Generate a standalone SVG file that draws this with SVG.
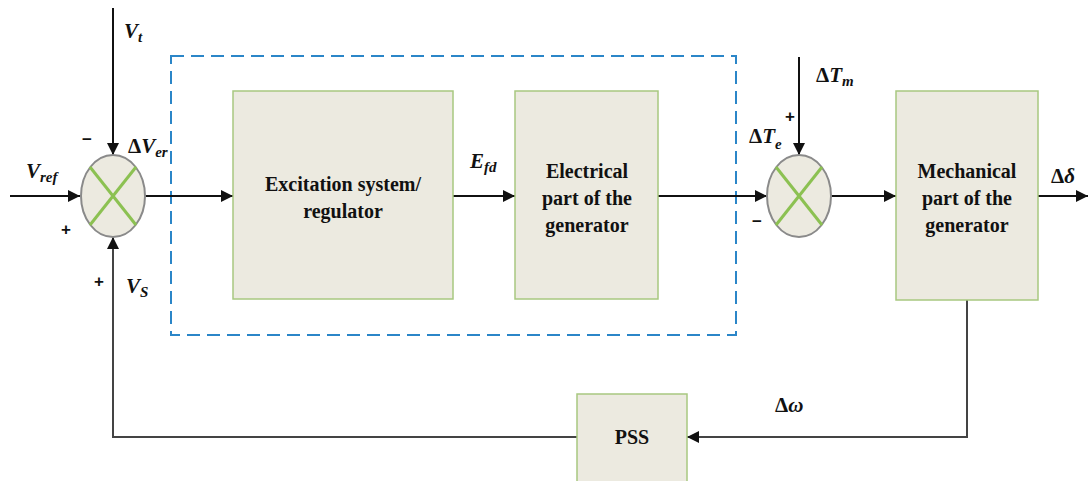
<svg xmlns="http://www.w3.org/2000/svg" width="1088" height="481" viewBox="0 0 1088 481">
  <style>
    .blk { fill: #ECEAE0; stroke: #A8C880; stroke-width: 1.5; }
    .sum { fill: #ECEAE0; stroke: #8A8A8A; stroke-width: 2; }
    .cross { stroke: #8CC152; stroke-width: 3; }
    .wire { fill: none; stroke: #111; stroke-width: 2; }
    .fb { fill: none; stroke: #444; stroke-width: 2; }
    .lbl { font-family: "Liberation Serif", serif; font-weight: bold; font-size: 20px; fill: #111; text-anchor: middle; }
    .var { font-family: "Liberation Serif", serif; font-weight: bold; font-style: italic; font-size: 21px; fill: #111; }
    .up { font-style: normal; }
    .sub { font-size: 15px; }
    .sign { font-family: "Liberation Sans", sans-serif; font-weight: bold; font-size: 17px; fill: #111; text-anchor: middle; }
  </style>
  <defs>
    <marker id="arr" viewBox="0 0 10 10" refX="10" refY="5" markerWidth="7" markerHeight="6" markerUnits="strokeWidth" orient="auto">
      <path d="M0,0 L10,5 L0,10 z" fill="#111"/>
    </marker>
  </defs>

  <rect width="1088" height="481" fill="#fff"/>

  <!-- dashed enclosure of the excitation loop -->
  <rect x="171" y="56" width="565" height="279" fill="none" stroke="#2B86C8" stroke-width="2" stroke-dasharray="13 7"/>

  <g id="connectors">
    <line class="wire" x1="113" y1="8" x2="113" y2="155" marker-end="url(#arr)"/>
    <line class="wire" x1="10" y1="196" x2="80" y2="196" marker-end="url(#arr)"/>
    <line class="wire" x1="145" y1="196" x2="233" y2="196" marker-end="url(#arr)"/>
    <line class="wire" x1="453" y1="196" x2="515" y2="196" marker-end="url(#arr)"/>
    <line class="wire" x1="658" y1="196" x2="767" y2="196" marker-end="url(#arr)"/>
    <line class="wire" x1="799" y1="57" x2="799" y2="155" marker-end="url(#arr)"/>
    <line class="wire" x1="831" y1="196" x2="896" y2="196" marker-end="url(#arr)"/>
    <line class="wire" x1="1038" y1="196" x2="1088" y2="196" marker-end="url(#arr)"/>
    <polyline class="fb" points="967,300 967,437 687,437" marker-end="url(#arr)"/>
    <polyline class="fb" points="577,437 113,437 113,237" marker-end="url(#arr)"/>
  </g>

  <g id="sum1">
    <ellipse class="sum" cx="113" cy="196" rx="32" ry="41"/>
    <line class="cross" x1="90" y1="167" x2="136" y2="225"/>
    <line class="cross" x1="136" y1="167" x2="90" y2="225"/>
  </g>

  <g id="sum2">
    <ellipse class="sum" cx="799" cy="196" rx="32" ry="41"/>
    <line class="cross" x1="776" y1="167" x2="822" y2="225"/>
    <line class="cross" x1="822" y1="167" x2="776" y2="225"/>
  </g>

  <g id="excitation">
    <rect class="blk" x="233" y="91" width="220" height="208"/>
    <text class="lbl" x="343" y="191">Excitation system/</text>
    <text class="lbl" x="343" y="218">regulator</text>
  </g>

  <g id="electrical">
    <rect class="blk" x="515" y="91" width="143" height="208"/>
    <text class="lbl" x="587" y="178">Electrical</text>
    <text class="lbl" x="587" y="205">part of the</text>
    <text class="lbl" x="587" y="232">generator</text>
  </g>

  <g id="mechanical">
    <rect class="blk" x="896" y="91" width="142" height="209"/>
    <text class="lbl" x="967" y="178">Mechanical</text>
    <text class="lbl" x="967" y="205">part of the</text>
    <text class="lbl" x="967" y="232">generator</text>
  </g>

  <g id="pss">
    <rect class="blk" x="577" y="394" width="110" height="88"/>
    <text class="lbl" x="632" y="444">PSS</text>
  </g>

  <g id="labels">
    <text class="var" x="124" y="38">V<tspan class="sub" dy="4">t</tspan></text>
    <text class="var" x="128" y="153"><tspan class="up">Δ</tspan>V<tspan class="sub" dy="4">er</tspan></text>
    <text class="var" x="26" y="178">V<tspan class="sub" dy="4">ref</tspan></text>
    <text class="var" x="126" y="293">V<tspan class="sub" dy="4">S</tspan></text>
    <text class="var" x="470" y="168">E<tspan class="sub" dy="4">fd</tspan></text>
    <text class="var" x="749" y="143"><tspan class="up">Δ</tspan>T<tspan class="sub" dy="6">e</tspan></text>
    <text class="var" x="816" y="82"><tspan class="up">Δ</tspan>T<tspan class="sub" dy="4">m</tspan></text>
    <text class="var" x="1051" y="183"><tspan class="up">Δ</tspan>δ</text>
    <text class="var" x="775" y="412"><tspan class="up">Δ</tspan>ω</text>
    <text class="sign" x="87" y="145">−</text>
    <text class="sign" x="66" y="235">+</text>
    <text class="sign" x="99" y="287">+</text>
    <text class="sign" x="790" y="122">+</text>
    <text class="sign" x="757" y="227">−</text>
  </g>
</svg>
